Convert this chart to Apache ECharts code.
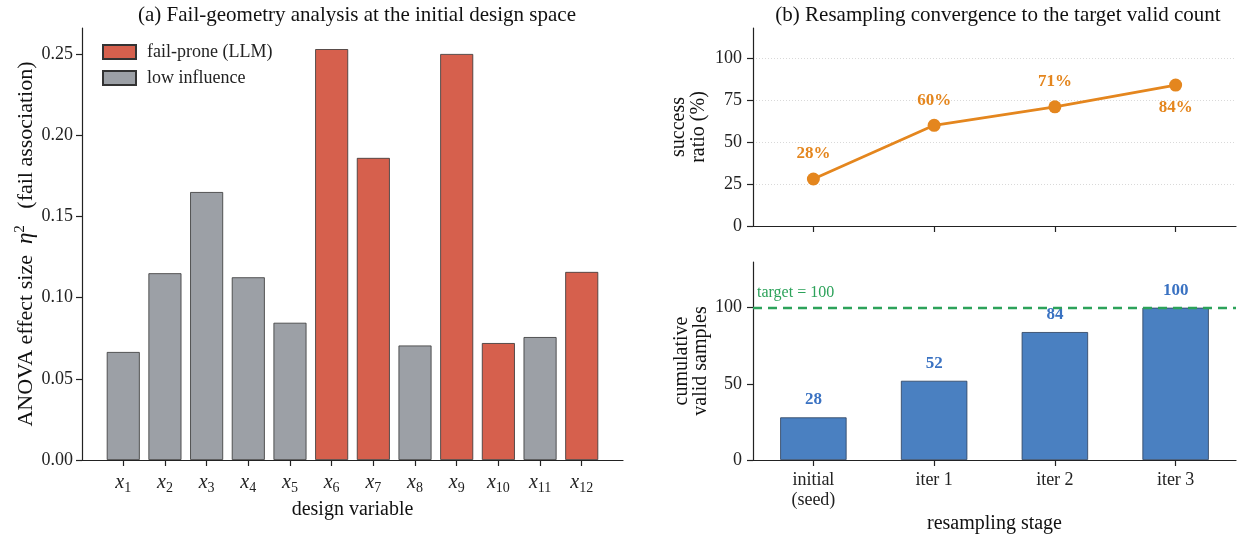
<!DOCTYPE html>
<html>
<head>
<meta charset="utf-8">
<script src="https://cdn.jsdelivr.net/npm/echarts@6/dist/echarts.min.js"></script>
<style>html,body{margin:0;padding:0;background:#fff}#c{width:1242px;height:540px}</style>
</head>
<body>
<div id="c"></div>
<script>
// ---- data ----
const varIndex = [1, 2, 3, 4, 5, 6, 7, 8, 9, 10, 11, 12];
const etaSq = [0.0665, 0.115, 0.165, 0.1125, 0.0845, 0.253, 0.186, 0.0705, 0.250, 0.072, 0.0757, 0.1158];
const failProne = [false, false, false, false, false, true, true, false, true, true, false, true];
const etaTicks = [0, 0.05, 0.1, 0.15, 0.2, 0.25];
const stages = ['initial\n(seed)', 'iter 1', 'iter 2', 'iter 3'];
const successPct = [28, 60, 71, 84];
const cumValid = [28, 52, 84, 100];
const target = 100;
const pctTicks = [0, 25, 50, 75, 100];
const validTicks = [0, 50, 100];

const FONT = '"Liberation Serif", "DejaVu Serif", serif';
const RED = '#d6604d', GRAY = '#9ca0a6', BLUE = '#4a80c1', ORANGE = '#e4861e', GREEN = '#2ca25a';
const AXC = '#222';

const chart = echarts.init(document.getElementById('c'), null, {renderer: 'canvas'});

const failData = [], lowData = [];
etaSq.forEach((v, i) => {
  (failProne[i] ? failData : lowData).push([i, v]);
});

const axisLine = {show: true, onZero: false, lineStyle: {color: AXC, width: 1.2}};
const axisTick = {show: true, inside: false, length: 6, lineStyle: {color: AXC, width: 1.2}};
const lbl = {color: '#222', fontFamily: FONT, fontSize: 18};
const nameStyle = {fontFamily: FONT, fontSize: 20, color: '#111'};

const option = {
  animation: false,
  textStyle: {fontFamily: FONT},
  title: [
    {text: '(a) Fail-geometry analysis at the initial design space', left: 352, top: 0, textAlign: 'center',
     textStyle: {fontFamily: FONT, fontSize: 21, fontWeight: 'normal', color: '#111'}},
    {text: '(b) Resampling convergence to the target valid count', left: 993, top: 0, textAlign: 'center',
     textStyle: {fontFamily: FONT, fontSize: 21, fontWeight: 'normal', color: '#111'}}
  ],
  legend: {
    left: 97, top: 38, orient: 'vertical', itemWidth: 33, itemHeight: 14, itemGap: 8,
    icon: 'rect',
    textStyle: {fontFamily: FONT, fontSize: 18, color: '#222', padding: [0, 0, 0, 6]},
    data: ['fail-prone (LLM)', 'low influence']
  },
  grid: [
    {left: 82, right: 619, top: 28, bottom: 80, containLabel: false},
    {left: 753, right: 6, top: 28, bottom: 314, containLabel: false},
    {left: 753, right: 6, top: 262, bottom: 80, containLabel: false}
  ],
  xAxis: [
    {gridIndex: 0, type: 'value', min: -0.99, max: 11.99, axisLine,
     axisTick: Object.assign({}, axisTick, {customValues: varIndex.map((d, i) => i)}),
     axisLabel: {customValues: varIndex.map((d, i) => i), margin: 11,
       formatter: v => '{x|x}{s|' + varIndex[Math.round(v)] + '}',
       rich: {x: {fontFamily: FONT, fontStyle: 'italic', fontSize: 20, color: '#222'},
              s: {fontFamily: FONT, fontSize: 14, color: '#222', padding: [10, 0, 0, 0]}}},
     splitLine: {show: false},
     name: 'design variable', nameLocation: 'middle', nameGap: 34, nameTextStyle: nameStyle},
    {gridIndex: 1, type: 'category', data: stages, boundaryGap: true, axisLine,
     axisTick: Object.assign({}, axisTick, {alignWithLabel: true}),
     axisLabel: {show: false}, splitLine: {show: false}},
    {gridIndex: 2, type: 'category', data: stages, boundaryGap: true, axisLine,
     axisTick: Object.assign({}, axisTick, {alignWithLabel: true}),
     axisLabel: Object.assign({}, lbl, {margin: 10, lineHeight: 20}), splitLine: {show: false},
     name: 'resampling stage', nameLocation: 'middle', nameGap: 54, nameTextStyle: nameStyle}
  ],
  yAxis: [
    {gridIndex: 0, type: 'value', min: 0, max: 0.266, axisLine,
     axisTick: Object.assign({}, axisTick, {customValues: etaTicks}),
     axisLabel: Object.assign({}, lbl, {customValues: etaTicks, margin: 9, formatter: v => v.toFixed(2)}),
     splitLine: {show: false},
     name: 'ANOVA effect size  {e|η}{p|2}   (fail association)', nameLocation: 'middle', nameGap: 31, nameRotate: 90,
     nameTextStyle: Object.assign({}, nameStyle, {fontSize: 22,
       rich: {e: {fontFamily: FONT, fontStyle: 'italic', fontSize: 23, color: '#111'},
              p: {fontFamily: FONT, fontSize: 15, color: '#111', padding: [0, 0, 13, 0]}}})},
    {gridIndex: 1, type: 'value', min: 0, max: 118, axisLine,
     axisTick: Object.assign({}, axisTick, {customValues: pctTicks}),
     axisLabel: Object.assign({}, lbl, {customValues: pctTicks, margin: 11}),
     splitLine: {show: true, lineStyle: {color: ['rgba(0,0,0,0)', '#cfcfcf', '#cfcfcf', '#cfcfcf', '#cfcfcf', 'rgba(0,0,0,0)'], type: [1, 2], width: 0.8}},
     name: 'success\nratio (%)', nameLocation: 'middle', nameGap: 44, nameRotate: 90,
     nameTextStyle: Object.assign({}, nameStyle, {lineHeight: 20})},
    {gridIndex: 2, type: 'value', min: 0, max: 130, axisLine,
     axisTick: Object.assign({}, axisTick, {customValues: validTicks}),
     axisLabel: Object.assign({}, lbl, {customValues: validTicks, margin: 11}),
     splitLine: {show: false},
     name: 'cumulative\nvalid samples', nameLocation: 'middle', nameGap: 40, nameRotate: 90,
     nameTextStyle: Object.assign({}, nameStyle, {lineHeight: 19})}
  ],
  series: [
    {name: 'fail-prone (LLM)', type: 'bar', xAxisIndex: 0, yAxisIndex: 0, data: failData,
     barWidth: 33, barGap: '-100%',
     itemStyle: {color: RED, borderColor: '#333', borderWidth: 0.8}},
    {name: 'low influence', type: 'bar', xAxisIndex: 0, yAxisIndex: 0, data: lowData,
     barWidth: 33, barGap: '-100%',
     itemStyle: {color: GRAY, borderColor: '#333', borderWidth: 0.8}},
    {name: 'success', type: 'line', xAxisIndex: 1, yAxisIndex: 1,
     data: successPct.map((v, i) => ({value: v,
       label: {position: i === successPct.length - 1 ? 'bottom' : 'top', distance: i === successPct.length - 1 ? 8 : 10}})),
     symbol: 'circle', symbolSize: 13,
     lineStyle: {color: ORANGE, width: 2.8}, itemStyle: {color: ORANGE},
     label: {show: true, formatter: p => p.value + '%', color: ORANGE, fontFamily: FONT, fontSize: 17, fontWeight: 'bold'}},
    {name: 'valid', type: 'bar', xAxisIndex: 2, yAxisIndex: 2, data: cumValid, barWidth: '55%',
     itemStyle: {color: BLUE, borderColor: '#2b3f5c', borderWidth: 0.8},
     label: {show: true, position: 'top', distance: 9, color: '#3a72c2', fontFamily: FONT, fontSize: 17, fontWeight: 'bold'},
     markLine: {silent: true, symbol: ['none', 'none'],
       lineStyle: {color: GREEN, type: [9, 6], width: 2.4},
       label: {show: true, position: 'insideStartTop', formatter: 'target = ' + target, color: GREEN,
         fontFamily: FONT, fontSize: 16, distance: [4, 7]},
       data: [{yAxis: target}]}}
  ]
};
chart.setOption(option);
</script>
</body>
</html>
